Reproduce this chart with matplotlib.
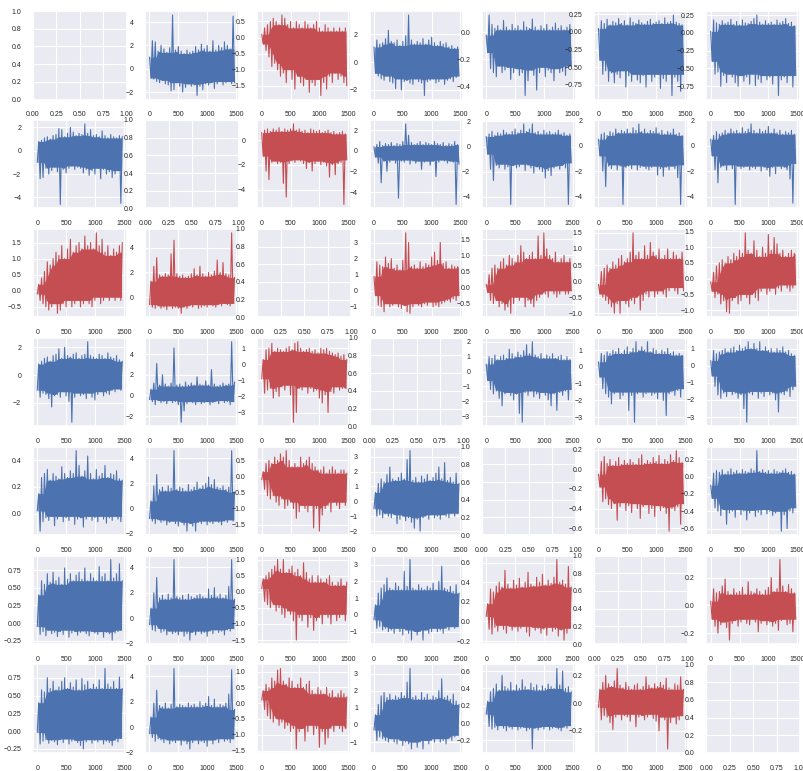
import numpy as np
import matplotlib.pyplot as plt
import seaborn as sns

# upper / lower envelope of each pairwise series, read every 50 steps (x = 0..1450)
hi_01 = [1.0, 2.4, 2.3, 1.5, 2.0, 1.7, 1.4, 1.8, 4.6, 1.6, 1.9, 1.5, 1.3, 1.6, 1.4, 1.5, 1.9, 1.6, 2.1, 1.7, 2.0, 1.5, 2.4, 1.6, 2.0, 1.8, 2.3, 2.0, 1.7, 4.5]
lo_01 = [-0.8, -0.9, -1.1, -1.2, -1.0, -1.3, -1.4, -1.9, -1.8, -1.2, -1.5, -2.0, -1.6, -1.3, -1.5, -1.4, -2.3, -1.5, -1.8, -1.3, -1.4, -1.2, -1.7, -1.3, -1.1, -1.4, -1.2, -1.1, -1.3, -1.2]
hi_02 = [0.1, 0.3, 0.4, 0.5, 0.6, 0.5, 0.4, 0.7, 0.6, 0.4, 0.5, 0.3, 0.5, 0.4, 0.3, 0.5, 0.4, 0.3, 0.4, 0.5, 0.3, 0.2, 0.4, 0.3, 0.2, 0.3, 0.2, 0.3, 0.2, 0.3]
lo_02 = [-0.2, -0.4, -0.6, -0.9, -0.8, -1.0, -1.2, -1.1, -1.4, -1.0, -1.3, -1.6, -1.2, -1.4, -1.5, -1.3, -1.7, -1.4, -1.5, -1.3, -1.8, -1.4, -1.6, -1.2, -1.4, -1.1, -1.3, -1.2, -1.4, -1.5]
hi_03 = [1.1, 1.6, 1.3, 1.4, 1.7, 2.3, 1.5, 1.4, 1.6, 1.2, 1.5, 1.9, 3.4, 1.6, 1.3, 1.5, 1.4, 1.7, 1.3, 1.6, 1.8, 1.4, 1.2, 1.5, 1.3, 1.4, 1.1, 1.2, 1.0, 1.1]
lo_03 = [-0.8, -1.0, -1.2, -1.3, -1.0, -1.4, -1.5, -1.9, -1.2, -2.0, -1.4, -1.3, -1.5, -1.6, -1.2, -1.4, -1.5, -2.4, -1.4, -1.3, -1.2, -1.5, -1.4, -1.2, -1.6, -1.3, -1.2, -1.4, -1.1, -1.0]
hi_04 = [-0.02, 0.13, 0.06, 0.03, 0.05, 0.02, 0.09, 0.04, 0.02, 0.06, 0.03, 0.05, 0.02, 0.08, 0.04, 0.03, 0.1, 0.04, 0.02, 0.05, 0.03, 0.06, 0.02, 0.04, 0.07, 0.03, 0.05, 0.02, 0.04, 0.06]
lo_04 = [-0.15, -0.27, -0.3, -0.33, -0.25, -0.3, -0.28, -0.26, -0.35, -0.3, -0.27, -0.32, -0.3, -0.47, -0.36, -0.28, -0.32, -0.43, -0.3, -0.26, -0.33, -0.28, -0.3, -0.36, -0.27, -0.3, -0.29, -0.32, -0.26, -0.25]
hi_05 = [0.05, 0.16, 0.12, 0.18, 0.1, 0.15, 0.13, 0.19, 0.12, 0.16, 0.1, 0.2, 0.14, 0.12, 0.17, 0.13, 0.11, 0.15, 0.18, 0.12, 0.14, 0.16, 0.12, 0.2, 0.13, 0.15, 0.24, 0.14, 0.12, 0.1]
lo_05 = [-0.4, -0.6, -0.55, -0.7, -0.58, -0.72, -0.6, -0.65, -0.55, -0.78, -0.62, -0.7, -0.6, -0.68, -0.72, -0.62, -0.78, -0.6, -0.7, -0.64, -0.6, -0.8, -0.66, -0.7, -0.6, -0.9, -0.64, -0.7, -0.84, -0.6]
hi_06 = [0.02, 0.18, 0.14, 0.12, 0.17, 0.13, 0.15, 0.19, 0.12, 0.16, 0.11, 0.18, 0.14, 0.13, 0.16, 0.2, 0.25, 0.15, 0.12, 0.17, 0.13, 0.15, 0.12, 0.18, 0.14, 0.16, 0.2, 0.13, 0.15, 0.1]
lo_06 = [-0.4, -0.58, -0.55, -0.75, -0.6, -0.7, -0.58, -0.62, -0.7, -0.75, -0.6, -0.68, -0.62, -0.72, -0.58, -0.74, -0.65, -0.7, -0.6, -0.66, -0.62, -0.72, -0.6, -0.88, -0.66, -0.62, -0.7, -0.6, -0.76, -0.6]
hi_12 = [0.6, 0.8, 0.9, 0.7, 0.9, 0.8, 1.0, 0.7, 0.9, 0.8, 0.9, 1.3, 0.8, 0.9, 0.7, 0.8, 0.6, 0.9, 0.8, 0.7, 0.8, 0.6, 0.7, 0.8, 0.6, 0.7, 0.5, 0.6, 0.7, 0.5]
lo_12 = [-1.3, -2.5, -3.2, -1.8, -1.7, -1.9, -1.8, -3.5, -4.6, -1.9, -1.7, -1.8, -1.6, -1.7, -1.9, -2.3, -1.8, -2.5, -1.9, -1.7, -2.0, -1.8, -2.1, -3.0, -2.0, -2.8, -1.9, -1.8, -5.2, -1.6]
hi_13 = [0.4, 0.6, 0.9, 0.5, 0.7, 0.6, 0.8, 0.5, 0.7, 0.6, 0.9, 2.6, 1.5, 0.8, 0.6, 0.7, 0.9, 0.6, 0.8, 0.7, 0.6, 0.9, 0.7, 0.6, 0.8, 0.5, 0.7, 0.6, 0.9, 0.6]
lo_13 = [-0.6, -1.2, -3.1, -1.0, -2.0, -1.1, -0.9, -1.2, -4.6, -1.0, -1.1, -0.9, -1.3, -1.0, -1.2, -1.0, -1.8, -1.1, -1.0, -1.4, -1.0, -2.5, -1.1, -0.9, -1.0, -1.2, -1.0, -1.1, -5.2, -1.3]
hi_14 = [0.8, 1.0, 1.2, 0.9, 1.1, 1.0, 1.3, 1.1, 1.0, 1.2, 1.4, 1.1, 1.3, 1.8, 1.2, 1.4, 1.8, 1.1, 1.2, 1.0, 1.3, 1.1, 1.2, 1.0, 1.1, 1.3, 1.0, 1.1, 0.9, 1.0]
lo_14 = [-0.6, -1.8, -2.7, -1.5, -1.7, -1.4, -1.8, -1.6, -4.6, -1.5, -1.7, -1.6, -1.4, -1.9, -1.5, -1.7, -2.1, -1.6, -1.8, -2.0, -2.5, -1.9, -2.3, -1.7, -1.6, -1.8, -1.5, -1.7, -4.6, -1.3]
hi_15 = [0.5, 0.9, 1.0, 0.8, 1.1, 1.0, 1.3, 1.0, 1.2, 1.1, 1.3, 1.0, 1.4, 1.2, 1.7, 1.1, 1.3, 1.0, 1.2, 1.1, 1.4, 1.0, 1.2, 0.9, 1.1, 1.0, 1.3, 0.9, 1.0, 0.8]
lo_15 = [-0.8, -2.0, -3.2, -1.6, -1.8, -1.5, -1.9, -1.6, -4.6, -1.7, -1.6, -1.8, -1.5, -1.9, -1.7, -1.6, -1.8, -1.9, -1.7, -1.6, -2.3, -1.8, -2.4, -1.7, -1.9, -1.6, -1.8, -2.5, -4.6, -1.5]
hi_16 = [0.5, 0.8, 1.1, 0.9, 1.0, 1.2, 1.0, 1.3, 1.1, 1.2, 1.0, 1.4, 1.1, 1.3, 1.7, 1.2, 1.0, 1.3, 1.1, 1.2, 1.5, 1.0, 1.3, 1.0, 1.2, 0.9, 1.1, 1.0, 1.2, 0.9]
lo_16 = [-0.8, -1.9, -2.9, -1.7, -1.6, -1.9, -1.5, -1.8, -4.6, -1.6, -1.8, -1.7, -1.6, -1.9, -1.7, -1.8, -1.6, -2.0, -1.7, -1.9, -2.4, -1.7, -2.2, -1.6, -1.8, -1.7, -1.9, -2.6, -4.5, -1.4]
hi_23 = [0.9, 1.8, 1.6, 1.5, 2.1, 1.7, 2.0, 1.4, 1.6, 1.3, 1.9, 3.6, 3.0, 1.5, 1.6, 1.4, 1.8, 1.5, 1.7, 1.6, 2.1, 2.4, 1.9, 3.0, 1.7, 1.8, 1.4, 1.6, 1.5, 1.5]
lo_23 = [-0.3, -0.9, -1.0, -1.3, -0.8, -1.0, -0.9, -0.8, -1.0, -1.1, -0.9, -1.3, -1.4, -1.0, -0.8, -0.9, -1.0, -0.8, -0.9, -0.7, -1.0, -0.9, -1.0, -0.8, -0.7, -0.6, -0.7, -0.5, -0.6, -0.3]
hi_24 = [0.1, 0.4, 0.6, 0.7, 0.6, 0.8, 0.9, 0.7, 1.0, 0.9, 0.8, 1.0, 1.3, 1.1, 0.9, 1.0, 1.1, 0.9, 1.6, 1.0, 1.7, 1.2, 1.0, 0.9, 1.1, 0.8, 0.9, 1.0, 0.8, 0.9]
lo_24 = [-0.15, -0.4, -0.5, -0.4, -0.6, -0.5, -0.7, -0.6, -0.8, -0.5, -0.3, -0.4, -0.3, -0.6, -0.4, -0.5, -0.6, -0.4, -0.3, -0.2, -0.2, -0.3, -0.1, -0.2, -0.3, -0.2, -0.1, -0.2, -0.2, -0.1]
hi_25 = [-0.1, 0.3, 0.4, 0.5, 0.4, 0.6, 0.5, 0.7, 0.8, 0.6, 0.7, 0.9, 1.5, 0.8, 0.9, 0.7, 1.1, 0.8, 1.2, 0.9, 0.8, 1.0, 0.7, 0.8, 1.0, 0.7, 0.9, 0.8, 0.7, 0.9]
lo_25 = [-0.4, -0.5, -0.6, -0.7, -0.8, -1.0, -0.7, -1.0, -0.6, -0.7, -0.8, -0.6, -0.7, -0.5, -0.9, -0.6, -0.4, -0.5, -0.3, -0.5, -0.4, -0.3, -0.4, -0.5, -0.3, -0.2, -0.3, -0.4, -0.2, -0.3]
hi_26 = [-0.1, 0.2, 0.4, 0.5, 0.6, 0.5, 0.7, 0.6, 0.8, 0.7, 0.9, 0.8, 1.45, 0.9, 0.8, 1.2, 0.9, 0.7, 1.0, 0.8, 1.4, 0.9, 1.3, 1.1, 0.8, 0.9, 0.7, 0.8, 0.9, 0.8]
lo_26 = [-0.4, -0.6, -0.5, -0.8, -0.7, -1.05, -1.1, -0.7, -0.6, -0.8, -0.7, -0.5, -0.6, -0.8, -0.5, -0.6, -0.7, -0.4, -0.3, -0.5, -0.4, -0.3, -0.5, -0.3, -0.4, -0.2, -0.3, -0.4, -0.3, -0.2]
hi_34 = [0.5, 1.0, 0.9, 1.1, 0.8, 1.0, 1.1, 0.9, 1.5, 1.2, 1.0, 1.3, 1.1, 1.4, 1.8, 1.2, 2.0, 1.1, 1.0, 1.2, 0.9, 1.1, 1.0, 1.2, 0.9, 1.0, 1.1, 0.8, 1.0, 0.8]
lo_34 = [-0.6, -1.2, -1.5, -1.3, -1.8, -2.3, -1.5, -1.4, -1.6, -1.9, -1.5, -2.8, -3.4, -1.4, -1.6, -1.3, -1.7, -1.5, -1.8, -1.4, -1.6, -1.9, -2.3, -1.5, -2.6, -1.4, -1.6, -1.3, -1.9, -1.2]
hi_35 = [0.3, 0.8, 0.7, 0.9, 0.8, 1.0, 0.9, 1.1, 0.8, 1.0, 1.2, 0.9, 1.1, 1.5, 1.0, 1.2, 1.0, 1.5, 0.9, 1.1, 1.0, 0.8, 1.0, 0.9, 1.1, 0.8, 0.9, 0.7, 0.8, 0.7]
lo_35 = [-0.6, -1.3, -1.6, -1.8, -2.2, -1.6, -1.5, -1.9, -1.7, -1.5, -2.6, -1.7, -3.3, -1.6, -1.5, -1.8, -1.6, -1.5, -1.7, -1.6, -1.9, -1.5, -2.0, -2.9, -1.6, -1.5, -1.7, -1.4, -1.8, -1.3]
hi_36 = [0.3, 0.9, 0.7, 0.8, 0.9, 1.0, 0.8, 1.0, 1.1, 0.9, 1.2, 1.0, 1.1, 1.4, 1.0, 1.3, 1.0, 1.4, 0.9, 1.1, 0.9, 1.0, 0.8, 1.0, 0.9, 1.1, 0.8, 0.9, 0.7, 0.6]
lo_36 = [-0.6, -1.2, -1.7, -1.9, -1.6, -1.8, -1.5, -1.7, -1.6, -1.9, -1.7, -2.5, -3.3, -1.6, -1.7, -1.5, -1.9, -1.6, -1.8, -1.5, -1.7, -1.6, -2.0, -2.7, -1.6, -1.7, -1.5, -1.8, -1.4, -1.2]
hi_45 = [-0.05, 0.08, 0.13, 0.06, 0.1, 0.04, 0.08, 0.12, 0.05, 0.09, 0.06, 0.1, 0.07, 0.05, 0.11, 0.15, 0.06, 0.09, 0.07, 0.12, 0.08, 0.14, 0.06, 0.1, 0.08, 0.15, 0.09, 0.19, 0.12, 0.07]
lo_45 = [-0.18, -0.33, -0.3, -0.36, -0.4, -0.35, -0.52, -0.38, -0.34, -0.42, -0.37, -0.44, -0.35, -0.4, -0.5, -0.38, -0.36, -0.45, -0.4, -0.48, -0.37, -0.42, -0.39, -0.45, -0.63, -0.4, -0.42, -0.38, -0.56, -0.35]
hi_46 = [-0.1, 0.04, 0.07, 0.05, 0.08, 0.03, 0.06, 0.09, 0.05, 0.07, 0.04, 0.08, 0.06, 0.05, 0.09, 0.07, 0.3, 0.06, 0.08, 0.05, 0.07, 0.04, 0.08, 0.06, 0.05, 0.07, 0.09, 0.05, 0.06, 0.03]
lo_46 = [-0.25, -0.36, -0.4, -0.45, -0.38, -0.55, -0.42, -0.4, -0.47, -0.38, -0.44, -0.4, -0.5, -0.42, -0.39, -0.46, -0.41, -0.44, -0.38, -0.43, -0.4, -0.45, -0.42, -0.4, -0.63, -0.44, -0.6, -0.4, -0.42, -0.36]
hi_56 = [0.03, 0.12, 0.09, 0.1, 0.14, 0.19, 0.1, 0.08, 0.12, 0.09, 0.1, 0.13, 0.08, 0.17, 0.1, 0.09, 0.12, 0.1, 0.08, 0.11, 0.13, 0.2, 0.1, 0.12, 0.33, 0.14, 0.1, 0.15, 0.12, 0.09]
lo_56 = [-0.1, -0.15, -0.2, -0.14, -0.12, -0.16, -0.25, -0.13, -0.11, -0.15, -0.12, -0.1, -0.13, -0.14, -0.1, -0.12, -0.19, -0.13, -0.11, -0.14, -0.12, -0.15, -0.13, -0.18, -0.11, -0.1, -0.14, -0.13, -0.19, -0.1]

n_vars = 7
step = 25  # hi at even steps, lo at odd steps
red_pairs = [(0, 2), (1, 2), (2, 3), (2, 4), (2, 5), (2, 6), (4, 5), (5, 6)]

sns.set_theme(style="darkgrid")
plt.rcParams['font.family'] = ['Liberation Sans', 'DejaVu Sans']
plt.rcParams['xtick.labelsize'] = 5
plt.rcParams['ytick.labelsize'] = 5
plt.rcParams['xtick.major.pad'] = 2.5
plt.rcParams['ytick.major.pad'] = 2.5
plt.rcParams['grid.linewidth'] = 0.8

g = globals()
fig, axes = plt.subplots(n_vars, n_vars, figsize=(8.04, 7.71), dpi=100)
fig.subplots_adjust(left=33/804, right=800/804, top=1-11/771, bottom=1-753/771,
                    wspace=0.2, hspace=0.23)


def core(v, k=2):
    # solid middle of the noise band: smallest envelope value around each point
    pad = np.concatenate([np.repeat(v[:1], k), v, np.repeat(v[-1:], k)])
    return np.min([pad[s:s + len(v)] for s in range(2 * k + 1)], axis=0)


for i in range(n_vars):
    for j in range(n_vars):
        ax = axes[i, j]
        if i == j:
            continue
        a, b = min(i, j), max(i, j)
        hi = np.array(g['hi_%d%d' % (a, b)])
        lo = np.array(g['lo_%d%d' % (a, b)])
        sign = -1 if i > j else 1
        top = sign * core(hi)
        bot = -sign * core(-lo)
        y = sign * np.column_stack([hi, lo]).ravel()
        x = np.arange(len(y)) * step
        color = '#C44E52' if (a, b) in red_pairs else '#4C72B0'
        ax.fill_between(x[::2] + step / 2, top, bot, color=color, lw=0)
        ax.plot(x, y, color=color, lw=0.8)

fig.savefig('out.png', dpi=100)
